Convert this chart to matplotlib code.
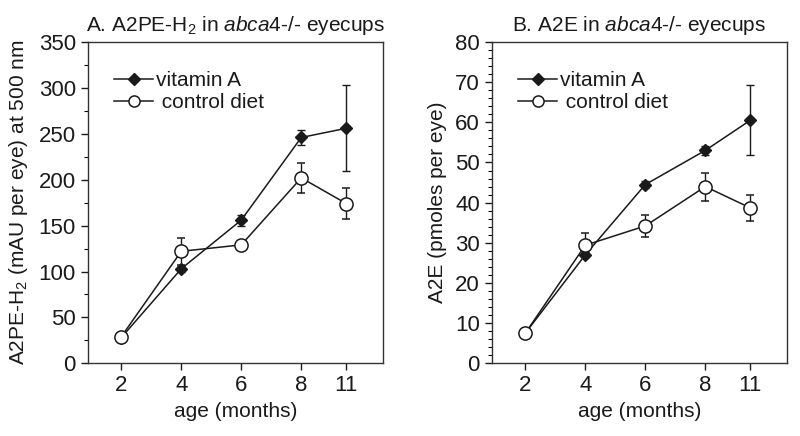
import matplotlib
matplotlib.use('Agg')
import matplotlib.pyplot as plt
from matplotlib.lines import Line2D
from matplotlib.ticker import MultipleLocator

plt.rcParams['font.family'] = ['Liberation Sans', 'DejaVu Sans']
plt.rcParams['mathtext.fontset'] = 'custom'
plt.rcParams['mathtext.rm'] = 'Liberation Sans'
plt.rcParams['mathtext.it'] = 'Liberation Sans:italic'

# x positions: 2,4,6,8 evenly, 11 drawn at 9.5 on the original axis
age_labels = ['2', '4', '6', '8', '11']
age_pos = [2, 4, 6, 8, 9.5]

# Panel A: A2PE-H2 (mAU per eye)
a_vitA = [28, 103, 156, 246, 256]
a_vitA_err = [2, 3, 6, 8, 47]
a_ctrl = [29, 122, 129, 202, 174]
a_ctrl_err = [2, 15, 2, 16, 17]

# Panel B: A2E (pmoles per eye)
b_vitA = [7.5, 27, 44.5, 53, 60.5]
b_vitA_err = [0.4, 0.6, 0.8, 1.2, 8.7]
b_ctrl = [7.5, 29.4, 34.2, 44, 38.7]
b_ctrl_err = [0.4, 3.0, 2.8, 3.5, 3.2]

fig = plt.figure(figsize=(8, 4.36), dpi=100)
axA = fig.add_axes([0.1096, 0.1667, 0.369, 0.737])
axB = fig.add_axes([0.6146, 0.1667, 0.369, 0.737])

ink = '#1a1a1a'

def panel(ax, vitA, vitA_err, ctrl, ctrl_err, ymax, major, minor, ylabel, title):
    ax.errorbar(age_pos, vitA, yerr=vitA_err, color=ink, lw=1.1, marker='D',
                ms=6.5, mfc=ink, mec=ink, capsize=3, elinewidth=1.0,
                capthick=1.0, zorder=3)
    ax.errorbar(age_pos, ctrl, yerr=ctrl_err, color=ink, lw=1.1, marker='o',
                ms=9.5, mfc='white', mec=ink, mew=1.1, capsize=3,
                elinewidth=1.0, capthick=1.0, zorder=4)
    ax.set_xlim(0.88, 10.72)
    ax.set_ylim(0, ymax)
    ax.set_xticks(age_pos)
    ax.set_xticklabels(age_labels)
    ax.yaxis.set_major_locator(MultipleLocator(major))
    ax.yaxis.set_minor_locator(MultipleLocator(minor))
    ax.tick_params(axis='both', labelsize=16, colors=ink, direction='out',
                   length=5, width=1.0, top=False, right=False)
    ax.tick_params(axis='y', which='minor', length=3, width=0.8)
    for s in ax.spines.values():
        s.set_linewidth(1.0)
        s.set_color('#333333')
    ax.set_xlabel('age (months)', fontsize=15, color=ink)
    ax.set_ylabel(ylabel, fontsize=15, color=ink, labelpad=6)
    ax.set_title(title, fontsize=15, color=ink, pad=8)
    handles = [
        Line2D([], [], color=ink, lw=1.1, marker='D', ms=6.5, mfc=ink, mec=ink),
        Line2D([], [], color=ink, lw=1.1, marker='o', ms=8, mfc='white',
               mec=ink, mew=1.1),
    ]
    leg = ax.legend(handles, ['vitamin A', ' control diet'], loc='upper left',
                    bbox_to_anchor=(0.06, 0.935), frameon=False, fontsize=15,
                    handlelength=1.9, handletextpad=0.15, labelspacing=0.15,
                    borderaxespad=0)
    for t in leg.get_texts():
        t.set_color(ink)

panel(axA, a_vitA, a_vitA_err, a_ctrl, a_ctrl_err, 350, 50, 25,
      'A2PE-H$_2$ (mAU per eye) at 500 nm',
      'A. A2PE-H$_2$ in $\\mathit{abca4}$-/- eyecups')
panel(axB, b_vitA, b_vitA_err, b_ctrl, b_ctrl_err, 80, 10, 2,
      'A2E (pmoles per eye)',
      'B. A2E in $\\mathit{abca4}$-/- eyecups')

fig.savefig('out.png', dpi=100)
